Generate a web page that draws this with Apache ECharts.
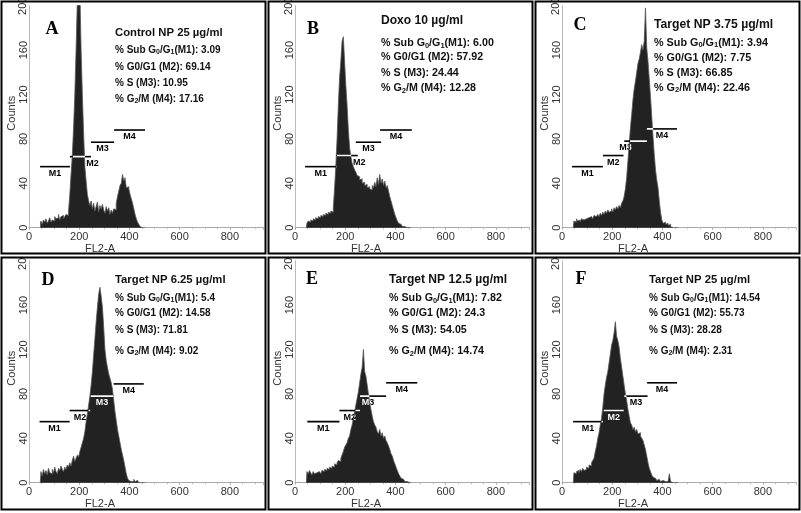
<!DOCTYPE html>
<html><head><meta charset="utf-8">
<script src="https://cdn.jsdelivr.net/npm/echarts@6/dist/echarts.min.js"></script>
<style>html,body{margin:0;padding:0;background:#fff}#c{width:801px;height:513px}</style>
</head><body><div id="c"></div>
<script>
// ---- DATA ----
const bins = [45,50,55,60,65,70,75,80,85,90,
  95,100,105,110,115,120,125,130,135,140,
  145,150,155,160,165,170,175,180,185,190,
  195,200,205,210,215,220,225,230,235,240,
  245,250,255,260,265,270,275,280,285,290,
  295,300,305,310,315,320,325,330,335,340,
  345,350,355,360,365,370,375,380,385,390,
  395,400,405,410,415,420,425,430,435,440,
  445,450,455,460,465];
const countsA = [4,6,3,7,5,8,4,6,9,5,
  7,6,10,8,9,12,7,10,11,8,
  10,12,11,15,30,48,65,90,120,160,
  205,240,215,160,120,85,55,42,30,24,
  20,24,17,22,15,19,23,14,20,17,
  21,16,13,19,15,18,12,16,13,17,
  16,22,28,33,38,40,48,42,45,36,
  37,35,30,26,22,17,12,8,5,3,
  1,0,0,0,0];
const countsB = [0,4,6,5,7,6,8,7,9,8,
  10,9,11,10,12,11,13,12,14,13,
  15,14,18,35,55,80,110,135,150,168,
  172,150,128,110,88,72,64,58,55,52,
  50,47,46,43,44,40,41,38,39,36,
  37,35,34,38,36,41,37,45,39,48,
  40,44,38,42,36,38,33,28,24,20,
  16,12,9,6,4,3,2,1,1,0,
  0,0,0,0,0];
const countsC = [0,6,5,8,6,7,5,8,7,6,
  8,7,9,8,10,9,8,11,10,9,
  12,10,13,11,14,12,15,13,16,14,
  15,17,14,18,16,19,17,20,18,22,
  24,28,35,45,60,75,90,102,115,125,
  132,140,148,152,158,165,160,168,198,162,
  150,134,118,100,82,66,52,43,36,24,
  14,7,4,5,3,4,2,3,1,0,
  0,0,0,0,0];
const countsD = [0,10,6,12,8,11,7,13,9,8,
  12,9,14,10,8,13,11,15,12,10,
  14,12,16,14,18,15,20,24,19,22,
  25,23,28,32,36,40,46,55,62,70,
  78,88,100,115,130,145,158,170,176,168,
  158,140,120,110,104,98,94,90,84,74,
  64,56,48,42,36,30,25,20,14,8,
  4,2,1,2,1,3,1,2,1,0,
  0,0,0,0,0];
const countsE = [0,10,8,11,9,7,10,8,9,8,
  10,9,8,11,10,12,11,13,12,14,
  13,15,14,17,16,18,20,19,22,25,
  28,32,34,36,40,42,48,52,58,64,
  70,76,82,90,98,104,120,100,96,88,
  80,72,66,60,55,52,50,46,44,48,
  42,45,40,42,38,36,33,30,26,24,
  20,17,14,11,8,6,4,3,2,1,
  1,0,0,0,0];
const countsF = [0,9,8,10,11,9,12,10,13,11,
  12,14,13,16,15,18,20,22,28,33,
  40,45,52,58,68,80,88,95,100,108,
  116,124,128,135,145,132,128,122,112,104,
  96,88,80,74,66,60,54,52,48,50,
  46,48,44,45,42,40,38,34,30,24,
  18,13,10,7,5,4,3,2,3,2,
  1,2,1,1,2,1,1,8,1,0,
  0,0,0,0,0];
// marker gates: [start, end, level, name]
const markersA = [[44,163,55,'M1'],[163,247,64,'M2'],[247,339,77,'M3'],[339,462,88,'M4']];
const markersB = [[40,166,55,'M1'],[166,250,65,'M2'],[242,343,77,'M3'],[339,465,88,'M4']];
const markersC = [[40,163,55,'M1'],[163,245,65,'M2'],[248,338,78,'M3'],[338,458,89,'M4']];
const markersD = [[42,162,55,'M1'],[162,244,65,'M2'],[244,337,78,'M3'],[337,457,89,'M4']];
const markersE = [[49,177,55,'M1'],[177,259,65,'M2'],[259,363,78,'M3'],[363,487,90,'M4']];
const markersF = [[44,163,55,'M1'],[166,246,65,'M2'],[248,341,78,'M3'],[339,458,90,'M4']];
const panelLetters = ['A','B','C','D','E','F'];
const panelTitles = ['Control NP 25 µg/ml','Doxo 10 µg/ml','Target NP 3.75 µg/ml','Target NP 6.25 µg/ml','Target NP 12.5 µg/ml','Target NP 25 µg/ml'];
const subG0G1 = ['3.09','6.00','3.94','5.4','7.82','14.54'];
const g0g1 = ['69.14','57.92','7.75','14.58','24.3','55.73'];
const sPhase = ['10.95','24.44','66.85','71.81','54.05','28.28'];
const g2m = ['17.16','12.28','22.46','9.02','14.74','2.31'];
const xTickStep = 200, xMin = 0, xMax = 932;
const yTickStep = 40, yMin = 0, yMax = 200;
const xName = 'FL2-A', yName = 'Counts';

// ---- LAYOUT ----
const counts = [countsA,countsB,countsC,countsD,countsE,countsF];
const markers = [markersA,markersB,markersC,markersD,markersE,markersF];
const AXIS_X = [29, 295, 562];
const BASE_Y = [227.7, 482.7];
const GRID_W = 234, GRID_H = 222;
const PANEL_X = [1.5, 268.5, 535.5], PANEL_Y = [1.5, 257.5], PANEL_W = 264, PANEL_H = 252;
const LETTER_POS = [[52,29],[313,29],[580,25],[48,280],[312,279],[581,279]];
const TEXT_POS = [[115,[33,50,67,83,99]],[381,[21,43,57,73,88]],[654,[25,43,58,73,88]],
  [115,[280,298,313,330,351]],[389,[280,298,313,330,351]],[649,[280,298,313,330,351]]];
const TEXT_SCALE = [1, 1.07, 1.08, 1, 1.07, 1];
// horizontal pixel shift of some gate labels (panel -> gate index -> px)
const LABEL_SHIFT = {0:{1:12}, 1:{1:12}, 2:{2:-10}, 4:{2:-5}};
const FONT = 'Liberation Sans';

const grids=[], xAxes=[], yAxes=[], series=[], graphics=[];
for (let i=0;i<6;i++){
  const c=i%3, r=Math.floor(i/3);
  grids.push({left:AXIS_X[c], top:BASE_Y[r]-GRID_H, width:GRID_W, height:GRID_H});
  xAxes.push({gridIndex:i,type:'value',min:xMin,max:xMax,interval:xTickStep,
    axisLine:{show:true,onZero:false,lineStyle:{color:'#aaa',width:1}},
    axisTick:{show:true,length:2,lineStyle:{color:'#aaa'}},
    minorTick:{show:true,splitNumber:4,length:1.5,lineStyle:{color:'#bbb'}},
    splitLine:{show:false},
    axisLabel:{margin:4,fontSize:11,fontFamily:FONT,color:'#333',
      formatter:v=> (v%xTickStep===0? String(v):'')},
    name:xName,nameLocation:'middle',nameGap:15,
    nameTextStyle:{fontSize:11,fontFamily:FONT,color:'#333',padding:[0,92,0,0]}});
  yAxes.push({gridIndex:i,type:'value',min:yMin,max:yMax,interval:yTickStep,
    axisLine:{show:true,lineStyle:{color:'#bbb',width:1}},
    axisTick:{show:false},splitLine:{show:false},
    axisLabel:{rotate:90,margin:0,fontSize:11,fontFamily:FONT,color:'#333',showMaxLabel:false},
    name:yName,nameLocation:'middle',nameRotate:90,nameGap:9,
    nameTextStyle:{fontSize:11,fontFamily:FONT,color:'#333',padding:[0,0,0,7]}});
  series.push({type:'line',xAxisIndex:i,yAxisIndex:i,step:'middle',symbol:'none',clip:true,
    data:bins.map((b,k)=>[b,counts[i][k]]),
    lineStyle:{color:'#555',width:0.8},areaStyle:{color:'#222',opacity:1},
    silent:true,animation:false,z:2});
  const mk = markers[i], cnt = counts[i], shift = LABEL_SHIFT[i] || {};
  series.push({type:'custom',xAxisIndex:i,yAxisIndex:i,clip:false,silent:true,animation:false,z:5,
    data:mk.map(m=>[m[0],m[1],m[2]]),
    renderItem:(params,api)=>{
      const m = mk[params.dataIndex];
      const p1=api.coord([m[0],m[2]]), p2=api.coord([m[1],m[2]]);
      const lx=(p1[0]+p2[0])/2 + (shift[params.dataIndex]||0);
      const els = col => [
        {type:'line',shape:{x1:p1[0],y1:p1[1],x2:p2[0],y2:p2[1]},style:{stroke:col,lineWidth:1.6}},
        {type:'text',x:lx,y:p1[1]+2,style:{text:m[3],fill:col,font:'bold 9px "Liberation Sans"',align:'center',verticalAlign:'top'}}
      ];
      const pts=[api.coord([bins[0],0])];
      bins.forEach((b,k)=>pts.push(api.coord([b, Math.min(cnt[k], yMax)])));
      pts.push(api.coord([bins[bins.length-1],0]));
      return {type:'group',children:[
        {type:'group',children:els('#000')},
        {type:'group',children:els('#fff'),clipPath:{type:'polygon',shape:{points:pts}}}
      ]};
    }});
  graphics.push({type:'text',x:LETTER_POS[i][0],y:LETTER_POS[i][1],z:50,
    style:{text:panelLetters[i],font:'bold 18px "Liberation Serif"',fill:'#000',align:'center',verticalAlign:'middle'}});
  const tp = TEXT_POS[i], sc = TEXT_SCALE[i];
  const rich = {
    b:{fontSize:10*sc,fontWeight:'bold',fontFamily:FONT,fill:'#111',lineHeight:12},
    s:{fontSize:7*sc,fontWeight:'bold',fontFamily:FONT,fill:'#111',lineHeight:8,verticalAlign:'bottom'}
  };
  const richTitle = {b:{fontSize:11.3*sc,fontWeight:'bold',fontFamily:FONT,fill:'#111',lineHeight:13}};
  const lines = [
    `{b|${panelTitles[i]}}`,
    `{b|% Sub G}{s|0}{b|/G}{s|1}{b|(M1): ${subG0G1[i]}}`,
    `{b|% G0/G1 (M2): ${g0g1[i]}}`,
    `{b|% S (M3): ${sPhase[i]}}`,
    `{b|% G}{s|2}{b|/M (M4): ${g2m[i]}}`
  ];
  lines.forEach((t,k)=>{
    graphics.push({type:'text',x:tp[0],y:tp[1][k],z:50,
      style:{text:t,rich:k===0?richTitle:rich,align:'left',verticalAlign:'middle'}});
  });
}

const chart = echarts.init(document.getElementById('c'),null,{renderer:'canvas'});
chart.setOption({backgroundColor:'#fff',animation:false,grid:grids,xAxis:xAxes,yAxis:yAxes,series:series});

// top y tick label (cut by the panel frame, as in the original)
for (let i=0;i<6;i++){
  const p = chart.convertToPixel({gridIndex:i},[xMin,yMax]);
  graphics.push({type:'text',x:p[0]-6,y:p[1],rotation:Math.PI/2,z:40,
    style:{text:String(yMax),font:'11px "Liberation Sans"',fill:'#333',align:'center',verticalAlign:'middle'}});
}
for (let c=0;c<3;c++){
  graphics.push({type:'rect',shape:{x:AXIS_X[c]-16,y:250,width:16,height:8},style:{fill:'#fff'},z:99});
}
for (let r=0;r<2;r++) for (let c=0;c<3;c++){
  graphics.push({type:'rect',shape:{x:PANEL_X[c],y:PANEL_Y[r],width:PANEL_W,height:PANEL_H},
    style:{fill:null,stroke:'#000',lineWidth:2},z:100});
}
chart.setOption({graphic:{elements:graphics}});
</script></body></html>
